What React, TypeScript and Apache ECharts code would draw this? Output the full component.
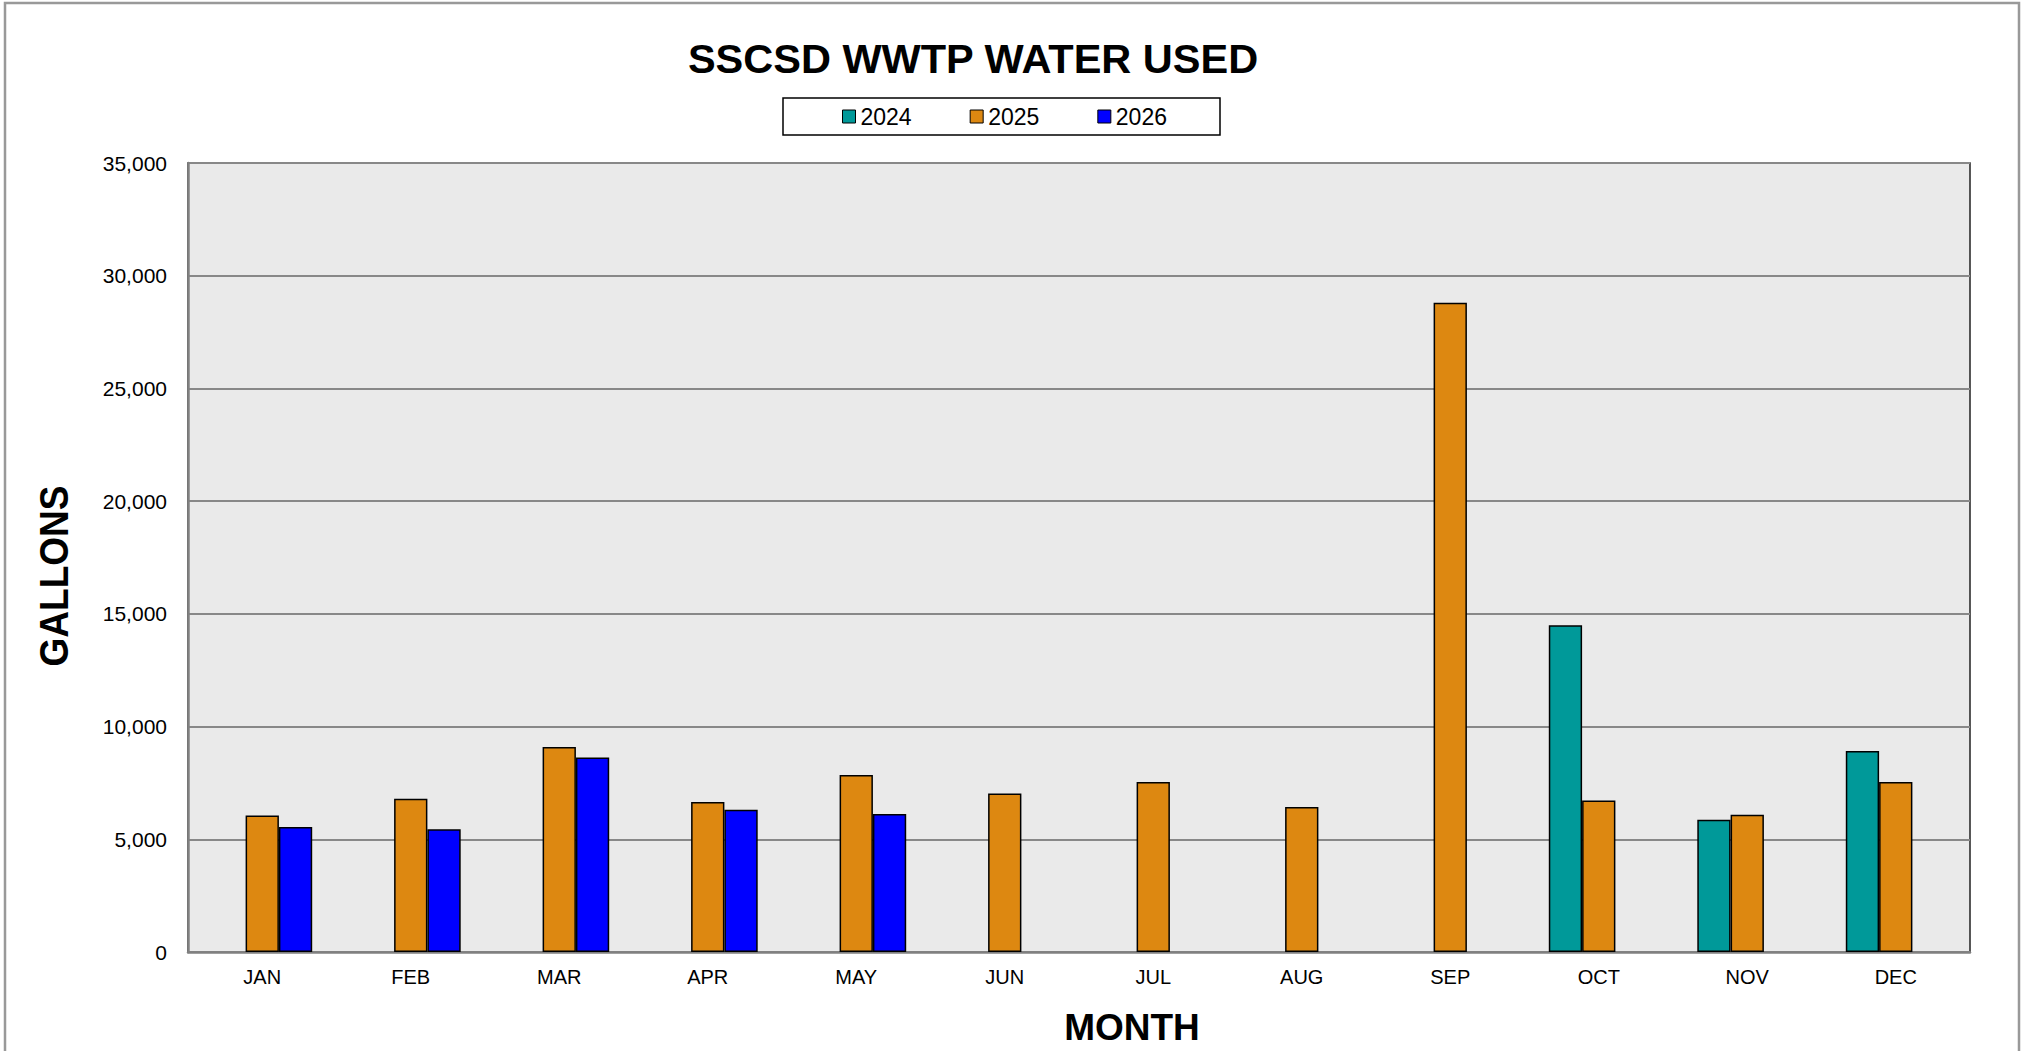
import React, { useEffect, useRef } from "react";
import * as echarts from "echarts";

const months = ["JAN", "FEB", "MAR", "APR", "MAY", "JUN", "JUL", "AUG", "SEP", "OCT", "NOV", "DEC"];
const years = ["2024", "2025", "2026"];
const values2024 = [null, null, null, null, null, null, null, null, null, 14500, 5870, 8920];
const values2025 = [6050, 6800, 9090, 6650, 7850, 7030, 7540, 6430, 28800, 6720, 6090, 7540];
const values2026 = [5540, 5450, 8630, 6310, 6120, null, null, null, null, null, null, null];
const yTicks = { min: 0, max: 35000, interval: 5000 };
const colors = ["#009999", "#DD8811", "#0000FF"];

const FONT = "'Liberation Sans', Arial, Helvetica, sans-serif";

export default function App() {
  const ref = useRef<HTMLDivElement>(null);
  useEffect(() => {
    document.body.style.margin = "0";
    const chart = echarts.init(ref.current!, null, { renderer: "svg" });
    const seriesData = [values2024, values2025, values2026];
    chart.setOption({
      animation: false,
      backgroundColor: "#ffffff",
      textStyle: { fontFamily: FONT },
      grid: {
        left: 188,
        right: 53,
        top: 163,
        bottom: 99,
        show: true,
        backgroundColor: "#EAEAEA",
        borderColor: "#222",
        borderWidth: 1.5,
      },
      legend: {
        data: years,
        left: 842,
        top: 105,
        itemWidth: 13,
        itemHeight: 13,
        itemGap: 58,
        icon: "rect",
        padding: 0,
        textStyle: { fontSize: 23, color: "#000", fontFamily: FONT, padding: [0, 0, 0, 0] },
        itemStyle: { borderColor: "#000", borderWidth: 1 },
      },
      xAxis: {
        type: "category",
        data: months,
        axisLine: { lineStyle: { color: "#808080", width: 2.5 } },
        axisTick: { show: false },
        axisLabel: { fontSize: 20, color: "#000", margin: 15, fontFamily: FONT },
        splitLine: { show: false },
      },
      yAxis: {
        type: "value",
        min: yTicks.min,
        max: yTicks.max,
        interval: yTicks.interval,
        axisLine: { show: true, lineStyle: { color: "#808080", width: 2.5 } },
        axisTick: { show: false },
        axisLabel: {
          fontSize: 21,
          color: "#000",
          margin: 21,
          fontFamily: FONT,
          formatter: (v: number) => v.toLocaleString("en-US"),
        },
        splitLine: { lineStyle: { color: "#888888", width: 2 } },
      },
      series: years.map((y, i) => ({
        name: y,
        type: "bar",
        data: seriesData[i],
        barWidth: 33.3,
        barGap: "0%",
        itemStyle: { color: colors[i], borderColor: "#000", borderWidth: 1.5 },
      })),
      graphic: [
        {
          type: "rect",
          shape: { x: 5, y: 3, width: 2014, height: 1120 },
          style: { fill: "none", stroke: "#999", lineWidth: 2.5 },
          silent: true,
        },
        {
          type: "rect",
          shape: { x: 783, y: 98, width: 437, height: 37 },
          style: { fill: "none", stroke: "#000", lineWidth: 1.5 },
          silent: true,
        },
        {
          type: "text",
          x: 973,
          y: 58,
          style: {
            text: "SSCSD WWTP WATER USED",
            font: `bold 41.5px ${FONT}`,
            fill: "#000",
            align: "center",
            verticalAlign: "middle",
          },
        },
        {
          type: "text",
          x: 1132,
          y: 1027,
          style: {
            text: "MONTH",
            font: `bold 37px ${FONT}`,
            fill: "#000",
            align: "center",
            verticalAlign: "middle",
          },
        },
        {
          type: "text",
          x: 54,
          y: 576,
          rotation: Math.PI / 2,
          scaleY: 1.1,
          style: {
            text: "GALLONS",
            font: `bold 37px ${FONT}`,
            fill: "#000",
            align: "center",
            verticalAlign: "middle",
          },
        },
      ],
    });
    return () => chart.dispose();
  }, []);
  return <div ref={ref} style={{ width: 2023, height: 1051 }} />;
}
